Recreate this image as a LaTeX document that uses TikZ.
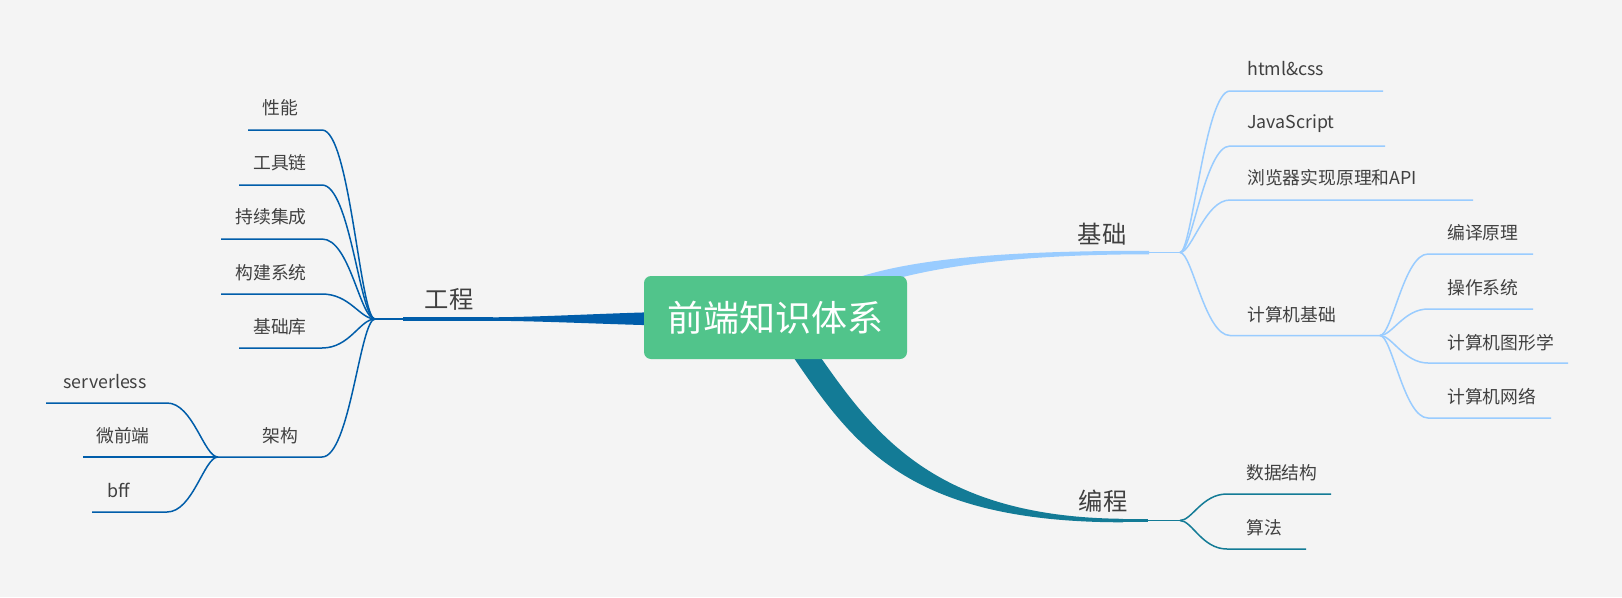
\documentclass[tikz,border=0pt]{standalone}
\usepackage{fontspec}
\setmainfont{Noto Sans CJK SC}
\usetikzlibrary{backgrounds}
\definecolor{bgc}{HTML}{F4F4F4}
\definecolor{rootc}{HTML}{51C48B}
\definecolor{gcc}{HTML}{005DAA}
\definecolor{jcc}{HTML}{99CCFF}
\definecolor{bcc}{HTML}{137B96}
\definecolor{txt}{HTML}{404040}
\tikzset{
  root/.style={fill=rootc,text=white,rounded corners=7,minimum width=263,minimum height=83,inner sep=0,font=\fontsize{36}{40}\selectfont},
  topic/.style={text=txt,inner sep=0,font=\fontsize{24.3}{27}\selectfont},
  leaf/.style={text=txt,inner sep=0,font=\fontsize{17.8}{20}\selectfont},
  rleaf/.style={leaf,anchor=west},
  gcline/.style={draw=gcc,line width=1.5},
  jcline/.style={draw=jcc,line width=1.5},
  bcline/.style={draw=bcc,line width=1.5}
}
\begin{document}
\begin{tikzpicture}[x=1pt,y=-1pt]
\begin{scope}[on background layer]
\useasboundingbox[fill=bgc] (0,0) rectangle (1622,597);
% main branches
\fill[gcc] (660,312) .. controls (600,313.5) and (540,317) .. (493,317.3) -- (493,320.8) .. controls (540,321) and (600,324) .. (660,325.5) -- cycle;
\fill[jcc] (840,284) .. controls (900,259) and (1000,250.8) .. (1149,250.8) -- (1149,254.3) .. controls (1000,254.3) and (905,270) .. (845,296) -- cycle;
\fill[bcc] (785,345) .. controls (850,440) and (900,522.3) .. (1123,522.3) -- (1123,518.8) .. controls (920,517) and (865,420) .. (805,335) -- cycle;
\end{scope}

\node[root] (root) at (775.5,317.5) {前端知识体系};

% 工程
\coordinate (gc) at (375,319);
\coordinate (gcu) at (403,319);
\coordinate (gce) at (493,319);
\node[topic] (gongcheng) at (449,299) {工程};
\draw[gcline] (gc) -- (gcu);
\draw[gcc,line width=3.5] (gcu) -- (gce);

\node[leaf] (xingneng) at (280,108) {性能};
\node[leaf] (gongju) at (280,163) {工具链};
\node[leaf] (jicheng) at (271,217) {持续集成};
\node[leaf] (goujian) at (271,273) {构建系统};
\node[leaf] (jichuku) at (280,327) {基础库};
\node[leaf] (jiagou) at (280,436) {架构};
\coordinate (xingneng-e) at (248,130);
\coordinate (gongju-e) at (239,185);
\coordinate (jicheng-e) at (221,239);
\coordinate (goujian-e) at (221,294);
\coordinate (jichuku-e) at (239,348);
\coordinate (jg) at (218,457);
\draw[gcline] (gc) .. controls +(-15,0) and +(28,0) .. (322,130) -- (xingneng-e);
\draw[gcline] (gc) .. controls +(-15,0) and +(28,0) .. (322,185) -- (gongju-e);
\draw[gcline] (gc) .. controls +(-15,0) and +(28,0) .. (322,239) -- (jicheng-e);
\draw[gcline] (gc) .. controls +(-15,0) and +(28,0) .. (322,294) -- (goujian-e);
\draw[gcline] (gc) .. controls +(-15,0) and +(28,0) .. (322,348) -- (jichuku-e);
\draw[gcline] (gc) .. controls +(-15,0) and +(28,0) .. (322,457) -- (jg);

\node[leaf] (serverless) at (105,382) {serverless};
\node[leaf] (weiqianduan) at (123,436) {微前端};
\node[leaf] (bff) at (119,490) {bff};
\coordinate (serverless-e) at (46,403);
\coordinate (weiqianduan-e) at (83,457);
\coordinate (bff-e) at (92,512);
\draw[gcline] (jg) .. controls +(-14,0) and +(26,0) .. (167,403) -- (serverless-e);
\draw[gcline] (jg) -- (weiqianduan-e);
\draw[gcline] (jg) .. controls +(-14,0) and +(26,0) .. (167,512) -- (bff-e);

% 基础
\coordinate (jc) at (1180,252.5);
\coordinate (jcu) at (1149,252.5);
\node[topic] (jichu) at (1102,234) {基础};
\draw[jcline] (jcu) -- (jc);

\node[rleaf] (html) at (1247,69) {html\&css};
\node[rleaf] (js) at (1247,124) {JavaScript};
\node[rleaf] (browser) at (1247,178) {浏览器实现原理和API};
\node[rleaf] (jsj) at (1247,315) {计算机基础};
\coordinate (html-e) at (1383,91);
\coordinate (js-e) at (1385,146);
\coordinate (browser-e) at (1473,200);
\coordinate (jsjhub) at (1380,335.5);
\draw[jcline] (jc) .. controls +(12,0) and +(-25,0) .. (1230,91) -- (html-e);
\draw[jcline] (jc) .. controls +(12,0) and +(-25,0) .. (1230,146) -- (js-e);
\draw[jcline] (jc) .. controls +(12,0) and +(-25,0) .. (1230,200) -- (browser-e);
\draw[jcline] (jc) .. controls +(12,0) and +(-25,0) .. (1230,335.5) -- (jsjhub);

\node[rleaf] (bianyi) at (1447,233) {编译原理};
\node[rleaf] (caozuo) at (1447,288) {操作系统};
\node[rleaf] (tuxing) at (1447,343) {计算机图形学};
\node[rleaf] (wangluo) at (1447,397) {计算机网络};
\coordinate (bianyi-e) at (1533,254);
\coordinate (caozuo-e) at (1533,309);
\coordinate (tuxing-e) at (1568,363);
\coordinate (wangluo-e) at (1551,418);
\draw[jcline] (jsjhub) .. controls +(12,0) and +(-24,0) .. (1428,254) -- (bianyi-e);
\draw[jcline] (jsjhub) .. controls +(12,0) and +(-24,0) .. (1428,309) -- (caozuo-e);
\draw[jcline] (jsjhub) .. controls +(12,0) and +(-24,0) .. (1428,363) -- (tuxing-e);
\draw[jcline] (jsjhub) .. controls +(12,0) and +(-24,0) .. (1428,418) -- (wangluo-e);

% 编程
\coordinate (bc) at (1180,520.5);
\coordinate (bcu) at (1148,520.5);
\coordinate (bcs) at (1100,520.5);
\node[topic] (biancheng) at (1103,501) {编程};
\draw[bcc,line width=3.5] (bcs) -- (bcu);
\draw[bcline] (bcu) -- (bc);

\node[rleaf] (shuju) at (1246,473) {数据结构};
\node[rleaf] (suanfa) at (1246,528) {算法};
\coordinate (shuju-e) at (1331,494);
\coordinate (suanfa-e) at (1306,549);
\draw[bcline] (bc) .. controls +(12,0) and +(-25,0) .. (1227,494) -- (shuju-e);
\draw[bcline] (bc) .. controls +(12,0) and +(-25,0) .. (1227,549) -- (suanfa-e);
\end{tikzpicture}
\end{document}
